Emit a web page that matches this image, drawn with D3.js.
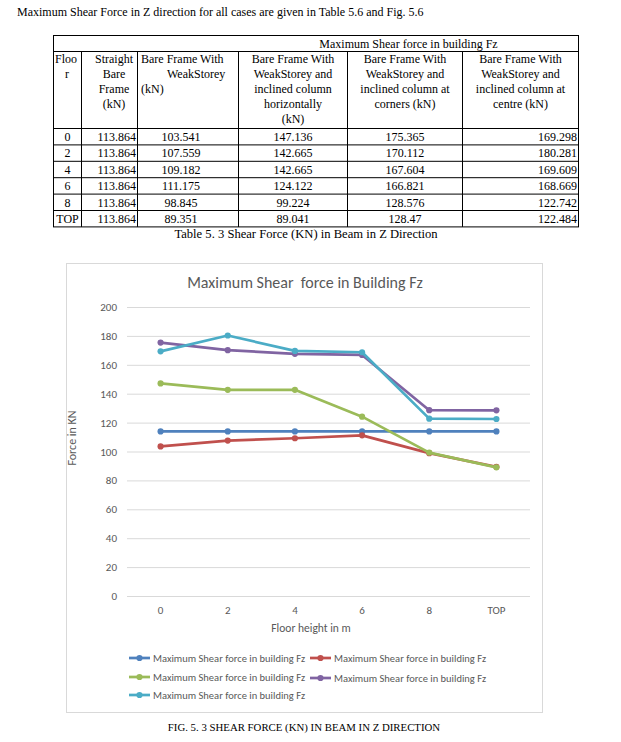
<!DOCTYPE html>
<html>
<head>
<meta charset="utf-8">
<script src="https://cdn.jsdelivr.net/npm/d3@7"></script>
<style>
  body { margin: 0; background: #fff; }
  svg text { font-family: "Liberation Serif", "Times New Roman", serif; }
  .xl text { font-family: Carlito, Calibri, Lato, "Open Sans", sans-serif; fill: #595959; }
</style>
</head>
<body>
<div id="page"></div>
<script>
const floors = ["0", "2", "4", "6", "8", "TOP"];
const straightBare = [113.864, 113.864, 113.864, 113.864, 113.864, 113.864];
const weakStorey = [103.541, 107.559, 109.182, 111.175, 98.845, 89.351];
const inclinedHoriz = [147.136, 142.665, 142.665, 124.122, 99.224, 89.041];
const inclinedCorners = [175.365, 170.112, 167.604, 166.821, 128.576, 128.47];
const inclinedCentre = [169.298, 180.281, 169.609, 168.669, 122.742, 122.484];
const yTicks = [0, 20, 40, 60, 80, 100, 120, 140, 160, 180, 200];
const seriesName = "Maximum Shear force in building Fz";
const colHeads = [
  ["Floo", "r"],
  ["Straight", "Bare", "Frame", "(kN)"],
  ["Bare Frame With", "WeakStorey", "(kN)"],
  ["Bare Frame With", "WeakStorey and", "inclined column", "horizontally", "(kN)"],
  ["Bare Frame With", "WeakStorey and", "inclined column at", "corners (kN)"],
  ["Bare Frame With", "WeakStorey and", "inclined column at", "centre (kN)"]
];

const width = 621, height = 742;
const colors = ["#4F81BD", "#C0504D", "#9BBB59", "#8064A2", "#4BACC6"];
const series = [straightBare, weakStorey, inclinedHoriz, inclinedCorners, inclinedCentre];

const svg = d3.select("#page").append("svg")
  .attr("width", width).attr("height", height);

// intro line
svg.append("text")
  .attr("x", 17).attr("y", 16)
  .attr("font-size", 12)
  .text("Maximum Shear Force in Z direction for all cases are given in Table 5.6 and Fig. 5.6");

// ---- table ----
const colX = [53.5, 81.5, 137.5, 238.5, 347.5, 462.5, 578.5];
const tTop = 35.5, headBot = 51.5, colHeadBot = 128.5, rowH = 16.4;
const tBot = colHeadBot + rowH * floors.length;
const mid = c => (colX[c] + colX[c + 1]) / 2;
const tbl = svg.append("g").attr("stroke", "#000").attr("stroke-width", 1);

tbl.append("rect").attr("x", colX[0]).attr("y", tTop)
  .attr("width", colX[6] - colX[0]).attr("height", tBot - tTop).attr("fill", "none");
tbl.append("line").attr("x1", colX[0]).attr("x2", colX[6]).attr("y1", headBot).attr("y2", headBot);
tbl.selectAll(".vl").data(colX.slice(1, 6)).enter().append("line")
  .attr("x1", d => d).attr("x2", d => d).attr("y1", headBot).attr("y2", tBot);
tbl.selectAll(".hl").data(d3.range(floors.length)).enter().append("line")
  .attr("x1", colX[0]).attr("x2", colX[6])
  .attr("y1", i => colHeadBot + i * rowH).attr("y2", i => colHeadBot + i * rowH);

svg.append("text").attr("x", (colX[3] + colX[6]) / 2).attr("y", 48)
  .attr("text-anchor", "middle").attr("font-size", 12)
  .text("Maximum Shear force in building Fz");

// column heading cells
const headAnchor = [
  [[55, "start"], [67, "middle"]],
  [[114, "middle"], [114, "middle"], [114, "middle"], [114, "middle"]],
  [[141, "start"], [167, "start"], [141, "start"]],
  [[mid(3), "middle"], [mid(3), "middle"], [mid(3), "middle"], [mid(3), "middle"], [mid(3), "middle"]],
  [[mid(4), "middle"], [mid(4), "middle"], [mid(4), "middle"], [mid(4), "middle"]],
  [[mid(5), "middle"], [mid(5), "middle"], [mid(5), "middle"], [mid(5), "middle"]]
];
colHeads.forEach((lines, c) => {
  svg.selectAll(".h" + c).data(lines).enter().append("text")
    .attr("x", (d, i) => headAnchor[c][i][0])
    .attr("y", (d, i) => 63 + i * 15)
    .attr("text-anchor", (d, i) => headAnchor[c][i][1])
    .attr("font-size", 12)
    .text(d => d);
});

// body rows
const cells = [];
floors.forEach((f, r) => {
  const y = colHeadBot + r * rowH + 12.5;
  cells.push({ t: f, x: mid(0), y, a: "middle" });
  cells.push({ t: String(straightBare[r]), x: colX[2] - 1.5, y, a: "end" });
  cells.push({ t: String(weakStorey[r]), x: 181, y, a: "middle" });
  cells.push({ t: String(inclinedHoriz[r]), x: mid(3), y, a: "middle" });
  cells.push({ t: String(inclinedCorners[r]), x: mid(4), y, a: "middle" });
  cells.push({ t: String(inclinedCentre[r]), x: colX[6] - 1.5, y, a: "end" });
});
svg.selectAll(".cell").data(cells).enter().append("text")
  .attr("x", d => d.x).attr("y", d => d.y)
  .attr("text-anchor", d => d.a).attr("font-size", 12)
  .text(d => d.t);

svg.append("text").attr("x", 306).attr("y", 238).attr("text-anchor", "middle")
  .attr("font-size", 12.6).text("Table 5. 3 Shear Force (KN) in Beam in Z Direction");

// ---- chart ----
const chart = svg.append("g").attr("class", "xl");
chart.append("rect").attr("x", 66.5).attr("y", 263.5)
  .attr("width", 476).attr("height", 449)
  .attr("fill", "#fff").attr("stroke", "#D9D9D9");

const plot = { left: 127, right: 530, top: 307, bottom: 596 };
const xScale = d3.scaleBand().domain(floors).range([plot.left, plot.right]);
const yScale = d3.scaleLinear().domain([0, 200]).range([plot.bottom, plot.top]);
const xc = d => xScale(d) + xScale.bandwidth() / 2;

chart.append("text").attr("x", 305).attr("y", 288).attr("text-anchor", "middle")
  .attr("font-size", 16).style("white-space", "pre")
  .text("Maximum Shear  force in Building Fz");

// gridlines
chart.selectAll(".grid").data(yTicks).enter().append("line")
  .attr("x1", plot.left).attr("x2", plot.right)
  .attr("y1", d => yScale(d) + 0.5).attr("y2", d => yScale(d) + 0.5)
  .attr("stroke", "#D9D9D9").attr("stroke-width", 1);

const yAxis = d3.axisLeft(yScale).tickValues(yTicks).tickSize(0).tickPadding(10);
chart.append("g").attr("transform", "translate(" + plot.left + ",0)")
  .call(yAxis)
  .call(g => g.select(".domain").remove())
  .selectAll("text").attr("font-size", 11).attr("fill", "#595959");

const xAxis = d3.axisBottom(xScale).tickSize(0).tickPadding(10);
chart.append("g").attr("transform", "translate(0," + plot.bottom + ")")
  .call(xAxis)
  .call(g => g.select(".domain").remove())
  .selectAll("text").attr("font-size", 11).attr("fill", "#595959");

chart.append("text").attr("x", 311).attr("y", 632).attr("text-anchor", "middle")
  .attr("font-size", 11.5).text("Floor height in m");
chart.append("text")
  .attr("transform", "translate(76,438) rotate(-90)")
  .attr("text-anchor", "middle").attr("font-size", 12).text("Force in KN");

const line = d3.line().x((d, i) => xc(floors[i])).y(d => yScale(d));
series.forEach((s, k) => {
  const g = chart.append("g");
  g.append("path").datum(s).attr("d", line)
    .attr("fill", "none").attr("stroke", colors[k]).attr("stroke-width", 2.7)
    .attr("stroke-linejoin", "round");
  g.selectAll("circle").data(s).enter().append("circle")
    .attr("cx", (d, i) => xc(floors[i])).attr("cy", d => yScale(d))
    .attr("r", 3.1).attr("fill", colors[k]);
});

// legend
const legPos = [[129, 658], [310, 658], [129, 677], [310, 678], [129, 695]];
const leg = chart.selectAll(".leg").data(colors).enter().append("g")
  .attr("transform", (d, i) => "translate(" + legPos[i][0] + "," + legPos[i][1] + ")");
leg.append("line").attr("x1", 0).attr("x2", 21).attr("y1", 0).attr("y2", 0)
  .attr("stroke", d => d).attr("stroke-width", 2.7);
leg.append("circle").attr("cx", 10.5).attr("cy", 0).attr("r", 3.1).attr("fill", d => d);
leg.append("text").attr("x", 24).attr("y", 3.6).attr("font-size", 10.5).text(seriesName);

svg.append("text").attr("x", 304).attr("y", 731).attr("text-anchor", "middle")
  .attr("font-size", 10.8).text("FIG. 5. 3 SHEAR FORCE (KN) IN BEAM IN Z DIRECTION");
</script>
</body>
</html>
